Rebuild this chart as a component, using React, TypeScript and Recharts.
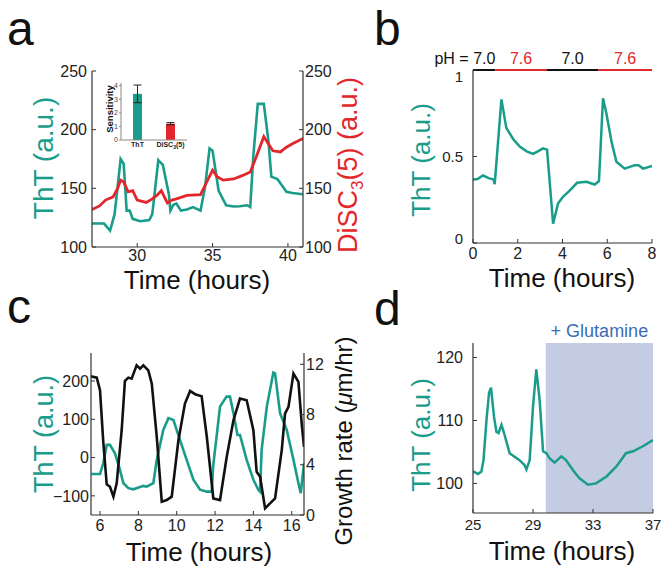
import React from 'react';
import {
  LineChart, Line, XAxis, YAxis, BarChart, Bar, Cell, ErrorBar,
  ReferenceLine, ReferenceArea,
} from 'recharts';

const FONT = '"Liberation Sans", Arial, Helvetica, sans-serif';
const TEAL = '#1a9c8b';
const RED = '#e3262b';
const AXIS = '#333';

// panel a – ThT and DiSC3(5) traces
const aThtTime = [27.0, 27.4, 27.8, 28.0, 28.2, 28.5, 28.9, 29.1, 29.3, 29.5, 29.7, 30.2, 30.8, 31.0, 31.4, 31.7, 32.1, 32.2, 32.4, 32.6, 32.9, 33.3, 33.7, 34.2, 34.5, 34.8, 35.0, 35.2, 35.4, 35.9, 36.4, 36.8, 37.3, 37.5, 37.7, 38.0, 38.4, 38.7, 38.9, 39.3, 39.9, 40.3, 41.0];
const aThtValue = [120, 120, 120, 117, 114, 128, 175, 171, 131, 131, 124, 122, 123, 128, 174, 170, 145, 131, 136, 137, 131, 132, 134, 131, 151, 184, 182, 165, 148, 135.6, 134.5, 134.7, 135.6, 134, 177, 222, 222, 191, 160, 158, 147, 146, 145];
const aDiscTime = [27.0, 27.5, 27.9, 28.4, 28.7, 28.9, 29.1, 29.4, 29.7, 30.0, 30.6, 31.0, 31.3, 31.6, 32.0, 32.3, 32.6, 33.3, 34.2, 34.6, 35.0, 35.3, 35.7, 36.4, 37.0, 37.5, 37.9, 38.4, 38.7, 39.0, 39.5, 39.9, 40.3, 41.0];
const aDiscValue = [132, 135, 140, 142.7, 150, 157, 155.5, 147, 148, 140, 138, 141, 144, 148, 137.6, 140, 141, 144, 144.7, 155, 165.5, 160, 157, 158, 161, 164, 177, 194, 188, 182, 181, 185, 188, 192.5];
const aTicksX = [30, 35, 40];
const aTicksY = [100, 150, 200, 250];

// inset – sensitivity
const insetNames = ['ThT', 'DiSC3(5)'];
const insetValues = [3.4, 1.2];
const insetErrors = [0.65, 0.08];
const insetTicks = [0, 1, 2, 3, 4];

// panel b – pH switching
const bTime = [0, 0.2, 0.45, 0.7, 0.92, 0.97, 1.27, 1.49, 1.8, 2.09, 2.4, 2.68, 2.9, 3.13, 3.31, 3.58, 3.8, 4.02, 4.3, 4.65, 5.07, 5.44, 5.63, 5.81, 5.96, 6.2, 6.41, 6.78, 7.23, 7.4, 7.6, 8.0];
const bValue = [0.367, 0.37, 0.39, 0.375, 0.367, 0.34, 0.83, 0.665, 0.6, 0.557, 0.53, 0.515, 0.53, 0.547, 0.54, 0.112, 0.228, 0.267, 0.3, 0.348, 0.354, 0.338, 0.358, 0.837, 0.75, 0.58, 0.47, 0.43, 0.45, 0.45, 0.43, 0.445];
const phStart = [0, 1, 3.3, 5.6];
const phEnd = [1, 3.3, 5.6, 8];
const phLabels = ['pH = 7.0', '7.6', '7.0', '7.6'];
const bTicksX = [0, 2, 4, 6, 8];
const bTicksY = [0, 0.5, 1];

// panel c – ThT vs growth rate
const cThtTime = [5.55, 6.0, 6.17, 6.35, 6.52, 6.78, 7.04, 7.22, 7.48, 7.74, 8.09, 8.26, 8.43, 8.78, 8.96, 9.3, 9.57, 9.83, 10.17, 10.52, 10.87, 11.22, 11.57, 11.83, 11.9, 12.26, 12.6, 12.78, 12.96, 13.17, 13.3, 13.65, 14.0, 14.26, 14.35, 14.43, 14.7, 15.04, 15.13, 15.39, 15.74, 16.09, 16.35, 16.47, 16.64];
const cThtValue = [-43, -43, -15, 33, 33, 11, -32, -67, -80, -83, -77, -74, -76, -67, -6, 72, 103, 98, 46, -6, -58, -84, -89, -89, -23, 133, 159, 159, 116, 59, 59, -6, -58, -84, -89, 20, 133, 222, 220, 116, 72, -6, -67, -93, -15];
const cGrowthTime = [5.51, 5.83, 6.0, 6.17, 6.35, 6.52, 6.7, 6.87, 7.13, 7.3, 7.48, 7.65, 7.91, 8.09, 8.26, 8.52, 8.7, 8.96, 9.22, 9.48, 9.74, 10.09, 10.43, 10.7, 10.96, 11.3, 11.57, 11.91, 12.26, 12.61, 12.96, 13.3, 13.65, 14.0, 14.17, 14.35, 14.61, 14.87, 15.13, 15.48, 15.65, 15.83, 16.09, 16.35, 16.52, 16.64];
const cGrowthValue = [11.05, 10.94, 9.93, 5.83, 2.44, 2.25, 1.46, 2.52, 6.75, 10.68, 10.94, 10.86, 11.92, 11.66, 11.92, 11.52, 10.46, 6.23, 1.06, 1.19, 1.46, 5.96, 8.87, 9.88, 9.62, 9.46, 6.23, 1.32, 1.19, 4.64, 7.55, 9.27, 9.14, 6.75, 3.44, 3.05, 0.53, 0.93, 1.32, 5.17, 8.08, 8.61, 11.26, 10.6, 7.28, 5.43];
const cTicksX = [6, 8, 10, 12, 14, 16];
const cTicksY = [-100, 0, 100, 200];
const cTicksRight = [0, 4, 8, 12];

// panel d – glutamine addition
const dTime = [25, 25.33, 25.56, 25.7, 25.9, 26.07, 26.2, 26.4, 26.56, 26.7, 26.9, 27.07, 27.44, 28.1, 28.44, 28.56, 28.78, 29.0, 29.22, 29.44, 29.67, 29.89, 30.1, 30.44, 30.89, 31.2, 31.67, 32.1, 32.67, 33.2, 33.9, 34.56, 35.2, 35.67, 36.33, 37];
const dValue = [101.9, 101.5, 101.9, 103.7, 110.1, 114.4, 115.2, 110.6, 108.2, 108, 109.3, 108, 104.8, 103.7, 102.9, 102.2, 103.7, 112.2, 118.1, 113.3, 105.1, 104.8, 104, 103.3, 104.3, 103.7, 102.1, 100.8, 99.8, 100, 101.1, 102.7, 104.8, 105.1, 105.9, 106.9];
const glutamineStart = 29.85;
const dTicksX = [25, 29, 33, 37];
const dTicksY = [100, 110, 120];

const zip = (ts: number[], vs: number[]) => ts.map((t, i) => ({ t, v: vs[i] }));

const tickStyle = (size: number) => ({ fill: '#222', fontSize: size, fontFamily: FONT });
const axisLine = { stroke: AXIS, strokeWidth: 1.2 };
const minus = (v: number) => (v < 0 ? `\u2212${Math.abs(v)}` : `${v}`);

function InsetTick({ x, y, payload }: any) {
  const val: string = payload.value;
  return (
    <text x={x} y={y + 7} textAnchor="middle" fontSize={7} fontWeight="bold" fill="#222" fontFamily={FONT}>
      {val.startsWith('DiSC') ? (
        <>DiSC<tspan dy={2} fontSize={5}>3</tspan><tspan dy={-2}>(5)</tspan></>
      ) : val}
    </text>
  );
}

// panel b's end labels sit a little inside the axis, as in the original
function BTickY({ x, y, payload }: any) {
  const v = payload.value;
  const shift = v === 1 ? 7 : v === 0 ? -4 : 0;
  return (
    <text x={x} y={y + shift} dy="0.35em" textAnchor="end" fontSize={15} fill="#222" fontFamily={FONT}>
      {v}
    </text>
  );
}

function PhLabel(i: number) {
  return (props: any) => {
    const vb = props.viewBox || {};
    const first = i === 0;
    const x = first ? vb.x + vb.width : vb.x + vb.width / 2;
    return (
      <text x={x} y={vb.y - 6} textAnchor={first ? 'end' : 'middle'} fontSize={16}
        fontFamily={FONT} fill={i % 2 === 1 ? RED : '#111'}>
        {phLabels[i]}
      </text>
    );
  };
}

export default function App() {
  const aTht = zip(aThtTime, aThtValue);
  const aDisc = zip(aDiscTime, aDiscValue);
  const inset = insetNames.map((name, i) => ({ name, v: insetValues[i], err: insetErrors[i] }));
  const bData = zip(bTime, bValue);
  const cTht = zip(cThtTime, cThtValue);
  const cGrowth = zip(cGrowthTime, cGrowthValue);
  const dData = zip(dTime, dValue);

  return (
    <div style={{ position: 'absolute', left: 0, top: 0, width: 670, height: 576, background: '#fff', fontFamily: FONT }}>
      {/* panel a */}
      <div style={{ position: 'absolute', left: 0, top: 0 }}>
        <LineChart width={360} height={290} margin={{ top: 71, right: 12, bottom: 13, left: 32 }}>
          <XAxis dataKey="t" type="number" domain={[27, 41]} ticks={aTicksX} allowDataOverflow
            height={30} tickSize={-4} tickMargin={7} tick={tickStyle(16)} axisLine={axisLine} tickLine={{ stroke: AXIS }} />
          <XAxis xAxisId="top" orientation="top" type="number" domain={[27, 41]} height={0}
            tick={false} tickLine={false} axisLine={axisLine} />
          <YAxis yAxisId="l" type="number" domain={[100, 250]} ticks={aTicksY} allowDataOverflow width={60}
            tickSize={-4} tickMargin={9} tick={tickStyle(16)} axisLine={axisLine} tickLine={{ stroke: AXIS }} />
          <YAxis yAxisId="r" orientation="right" type="number" domain={[100, 250]} ticks={aTicksY} allowDataOverflow width={45}
            tickSize={-4} tickMargin={6} tick={tickStyle(16)} axisLine={axisLine} tickLine={{ stroke: AXIS }} />
          <Line yAxisId="l" data={aTht} dataKey="v" type="linear" stroke={TEAL} strokeWidth={2.6} dot={false} isAnimationActive={false} />
          <Line yAxisId="r" data={aDisc} dataKey="v" type="linear" stroke={RED} strokeWidth={2.8} dot={false} isAnimationActive={false} />
        </LineChart>
      </div>

      {/* inset */}
      <div style={{ position: 'absolute', left: 95, top: 75 }}>
        <BarChart width={100} height={80} data={inset} margin={{ top: 8, right: 8, bottom: 2, left: 12 }} barCategoryGap="70%">
          <XAxis dataKey="name" height={13} interval={0} tickSize={0} tickMargin={0} tick={<InsetTick />}
            axisLine={{ stroke: '#888' }} tickLine={false} />
          <YAxis type="number" domain={[0, 4.2]} ticks={insetTicks} interval={0} width={14} tickSize={2} tickMargin={1}
            tick={{ fill: '#444', fontSize: 7, fontFamily: FONT }} axisLine={{ stroke: '#888' }} tickLine={{ stroke: '#888' }} />
          <Bar dataKey="v" barSize={9} isAnimationActive={false}>
            {inset.map((d, i) => <Cell key={d.name} fill={i === 0 ? TEAL : RED} />)}
            <ErrorBar dataKey="err" width={4} stroke="#222" strokeWidth={1} />
          </Bar>
        </BarChart>
      </div>

      {/* panel b */}
      <div style={{ position: 'absolute', left: 340, top: 0 }}>
        <LineChart width={330} height={290} margin={{ top: 70, right: 18, bottom: 17, left: 83 }}>
          <XAxis dataKey="t" type="number" domain={[0, 8]} ticks={bTicksX} allowDataOverflow height={30}
            tickSize={-4} tickMargin={9} tick={tickStyle(16)} axisLine={axisLine} tickLine={{ stroke: AXIS }} />
          <YAxis type="number" domain={[0, 1]} ticks={bTicksY} allowDataOverflow width={50}
            tickSize={-4} tickMargin={14} tick={<BTickY />} axisLine={axisLine} tickLine={{ stroke: AXIS }} />
          {phStart.map((s, i) => (
            <ReferenceLine key={i} segment={[{ x: s, y: 1 }, { x: phEnd[i], y: 1 }]}
              stroke={i % 2 === 1 ? RED : '#111'} strokeWidth={2} label={PhLabel(i)} />
          ))}
          <Line data={bData} dataKey="v" type="linear" stroke={TEAL} strokeWidth={2.5} dot={false} isAnimationActive={false} />
        </LineChart>
      </div>

      {/* panel c */}
      <div style={{ position: 'absolute', left: 0, top: 290 }}>
        <LineChart width={360} height={286} margin={{ top: 63, right: 16, bottom: 31, left: 31 }}>
          <XAxis dataKey="t" type="number" domain={[5.53, 16.64]} ticks={cTicksX} allowDataOverflow height={30}
            tickSize={-4} tickMargin={9} tick={tickStyle(16)} axisLine={axisLine} tickLine={{ stroke: AXIS }} />
          <XAxis xAxisId="top" orientation="top" type="number" domain={[5.53, 16.64]} height={0}
            tick={false} tickLine={false} axisLine={axisLine} />
          <YAxis yAxisId="l" type="number" domain={[-150, 273]} ticks={cTicksY} allowDataOverflow width={60}
            tickSize={-4} tickMargin={6} tick={tickStyle(16)} tickFormatter={minus} axisLine={axisLine} tickLine={{ stroke: AXIS }} />
          <YAxis yAxisId="r" orientation="right" type="number" domain={[0, 12.9]} ticks={cTicksRight} allowDataOverflow width={40}
            tickSize={-4} tickMargin={6} tick={tickStyle(16)} axisLine={axisLine} tickLine={{ stroke: AXIS }} />
          <Line yAxisId="l" data={cTht} dataKey="v" type="linear" stroke={TEAL} strokeWidth={2.6} dot={false} isAnimationActive={false} />
          <Line yAxisId="r" data={cGrowth} dataKey="v" type="linear" stroke="#111" strokeWidth={2.6} dot={false} isAnimationActive={false} />
        </LineChart>
      </div>

      {/* panel d */}
      <div style={{ position: 'absolute', left: 340, top: 290 }}>
        <LineChart width={330} height={286} margin={{ top: 53, right: 17, bottom: 33, left: 83 }}>
          <XAxis dataKey="t" type="number" domain={[25, 37]} ticks={dTicksX} allowDataOverflow height={30}
            tickSize={-4} tickMargin={10} tick={tickStyle(15)} axisLine={axisLine} tickLine={{ stroke: AXIS }} />
          <YAxis type="number" domain={[95.3, 122.3]} ticks={dTicksY} allowDataOverflow width={50}
            tickSize={-4} tickMargin={14} tick={tickStyle(16)} axisLine={axisLine} tickLine={{ stroke: AXIS }} />
          <ReferenceArea x1={glutamineStart} x2={37} fill="#c3cce3" fillOpacity={1} stroke="none"
            label={{ value: '+ Glutamine', position: 'top', fill: '#3a6cb5', fontSize: 18, fontFamily: FONT, offset: 6 }} />
          <Line data={dData} dataKey="v" type="linear" stroke={TEAL} strokeWidth={2.5} dot={false} isAnimationActive={false} />
        </LineChart>
      </div>

      {/* titles and panel letters */}
      <svg width={670} height={576} style={{ position: 'absolute', left: 0, top: 0, pointerEvents: 'none' }} fontFamily={FONT}>
        <text x={7} y={45} fontSize={48} fill="#111">a</text>
        <text x={374} y={45} fontSize={48} fill="#111">b</text>
        <text x={7} y={323} fontSize={48} fill="#111">c</text>
        <text x={374} y={325} fontSize={48} fill="#111">d</text>

        <text transform="translate(53,158) rotate(-90)" textAnchor="middle" fontSize={28} fill={TEAL}>ThT (a.u.)</text>
        <text x={197} y={289} textAnchor="middle" fontSize={26} fill="#111">Time (hours)</text>
        <text transform="translate(357,165) rotate(-90)" textAnchor="middle" fontSize={27} fill={RED}>
          DiSC<tspan dy={6} fontSize={17}>3</tspan><tspan dy={-6}>(5) (a.u.)</tspan>
        </text>
        <text transform="translate(113,109) rotate(-90)" textAnchor="middle" fontSize={9.5} fontWeight="bold" fill="#111">Sensitivity</text>

        <text transform="translate(430,160) rotate(-90)" textAnchor="middle" fontSize={26} fill={TEAL}>ThT (a.u.)</text>
        <text x={562} y={287} textAnchor="middle" fontSize={26} fill="#111">Time (hours)</text>

        <text transform="translate(53,434) rotate(-90)" textAnchor="middle" fontSize={27} fill={TEAL}>ThT (a.u.)</text>
        <text x={199} y={561} textAnchor="middle" fontSize={26} fill="#111">Time (hours)</text>
        <text transform="translate(352,441) rotate(-90)" textAnchor="middle" fontSize={24} fill="#111">
          Growth rate (<tspan fontStyle="italic">μ</tspan>m/hr)
        </text>

        <text transform="translate(430,435) rotate(-90)" textAnchor="middle" fontSize={26} fill={TEAL}>ThT (a.u.)</text>
        <text x={562} y={560} textAnchor="middle" fontSize={26} fill="#111">Time (hours)</text>
      </svg>
    </div>
  );
}
